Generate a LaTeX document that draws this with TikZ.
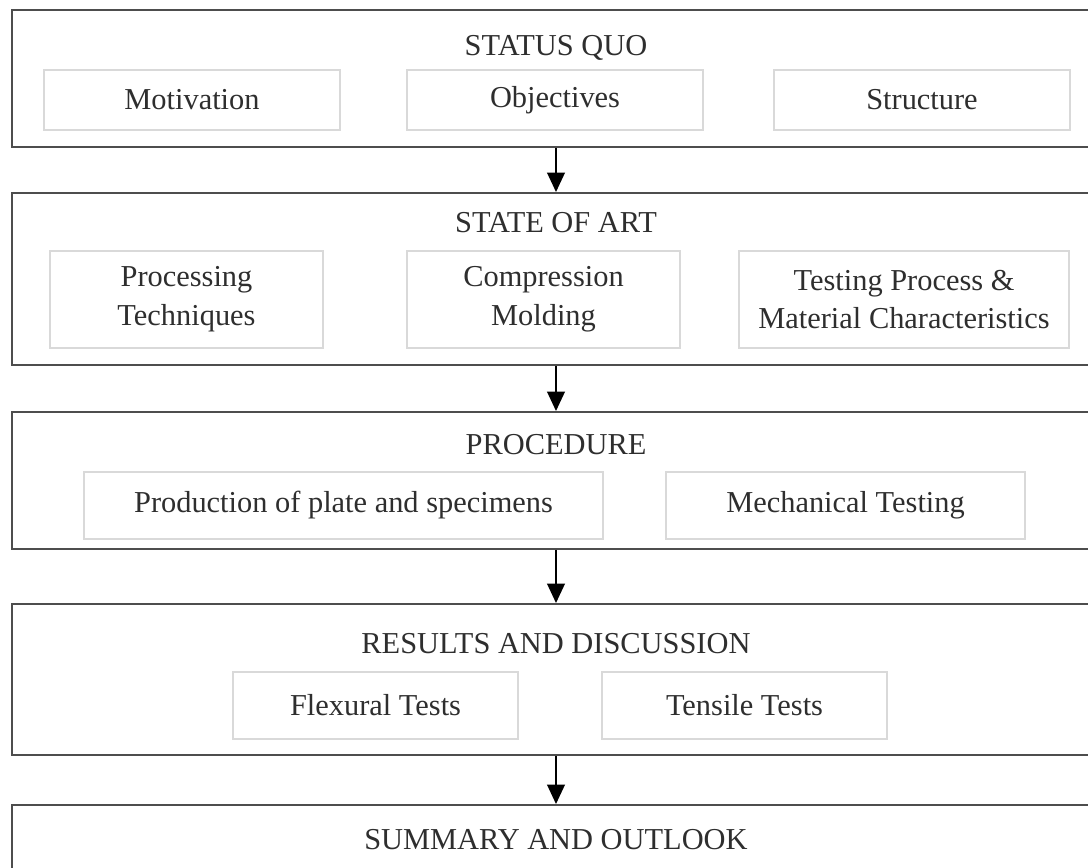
\documentclass[tikz,border=0pt]{standalone}
\usepackage{fontspec}
\setmainfont{Liberation Serif}
\usetikzlibrary{arrows.meta}
\definecolor{ink}{HTML}{2E2E2E}
\definecolor{frameline}{HTML}{4D4D4D}
\definecolor{partline}{HTML}{D9D9D9}
\newcommand{\bodysize}{\fontsize{17.3}{22}\selectfont}
\tikzset{
 every node/.append style={font=\bodysize,text=ink,align=center},
 stage/.style={draw=frameline,line width=1.1pt,minimum width=21.76cm,inner sep=0pt},
 part/.style={draw=partline,line width=1pt,inner sep=0pt,minimum height=1.2cm},
 heading/.style={inner sep=0pt,anchor=base},
 flow/.style={-{Triangle[length=11pt,width=10pt]},draw=black,line width=1.1pt},
}

\begin{document}
\begin{tikzpicture}

\useasboundingbox (0,0) rectangle (21.76,-17.36);
\clip (0,0) rectangle (21.76,-17.36);

\node[stage,minimum height=2.74cm] (quo) at (11.12,-1.57) {};
\node[stage,minimum height=3.44cm] (art) at (11.12,-5.58) {};
\node[stage,minimum height=2.74cm] (proc) at (11.12,-9.61) {};
\node[stage,minimum height=3.02cm] (res) at (11.12,-13.59) {};
\node[stage,minimum height=1.9cm] (sum) at (11.12,-17.05) {};

\node[heading] (quotitle) at (11.12,-1.12) {STATUS QUO};
\node[part,minimum width=5.92cm] (motiv) at (3.84,-2.0) {Motivation};
\node[part,minimum width=5.92cm] (object) at (11.1,-2.0) {Objectives};
\node[part,minimum width=5.92cm] (struct) at (18.44,-2.0) {Structure};

\node[heading] (arttitle) at (11.12,-4.66) {STATE OF ART};
\node[part,minimum width=5.46cm,minimum height=1.94cm] (techn) at (3.73,-5.99) {Processing\\Techniques};
\node[part,minimum width=5.46cm,minimum height=1.94cm] (mold) at (10.87,-5.99) {Compression\\Molding};
\node[part,minimum width=6.6cm,minimum height=1.94cm] (testing) at (18.08,-5.99) {Testing Process \&\\Material Characteristics};

\node[heading] (proctitle) at (11.12,-9.10) {PROCEDURE};
\node[part,minimum width=10.38cm,minimum height=1.34cm] (plate) at (6.87,-10.11) {Production of plate and specimens};
\node[part,minimum width=7.18cm,minimum height=1.34cm] (mech) at (16.91,-10.11) {Mechanical Testing};

\node[heading] (restitle) at (11.12,-13.08) {RESULTS AND DISCUSSION};
\node[part,minimum width=5.7cm,minimum height=1.34cm] (flex) at (7.51,-14.11) {Flexural Tests};
\node[part,minimum width=5.7cm,minimum height=1.34cm] (tensile) at (14.89,-14.11) {Tensile Tests};

\node[heading] (sumtitle) at (11.12,-16.98) {SUMMARY AND OUTLOOK};

\draw[flow] (quo.south) -- (art.north);
\draw[flow] (art.south) -- (proc.north);
\draw[flow] (proc.south) -- (res.north);
\draw[flow] (res.south) -- (sum.north);

\end{tikzpicture}
\end{document}
